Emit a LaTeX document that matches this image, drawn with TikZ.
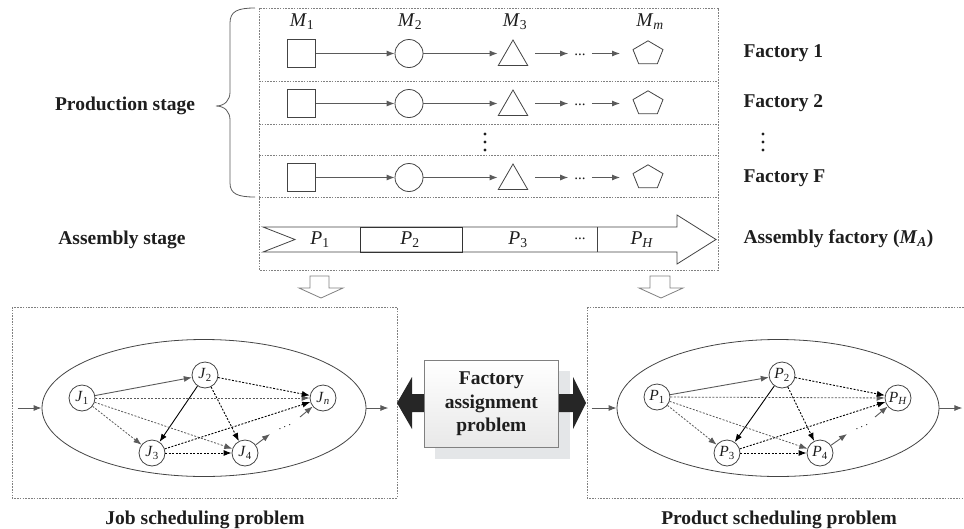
\documentclass[tikz,border=0pt]{standalone}
\usepackage{fontspec}
\setmainfont{Liberation Serif}
\usetikzlibrary{arrows.meta,shapes.geometric,calc}

\definecolor{ink}{HTML}{1E1E1E}
\definecolor{edge}{HTML}{444444}
\definecolor{flowgray}{HTML}{5A5A5A}
\definecolor{boxline}{HTML}{808080}
\definecolor{shadowgray}{HTML}{E4E6E8}

\newcommand{\msub}[2]{\textit{#1}\textsubscript{#2}}

\tikzset{
  dbox/.style={draw=boxline, line width=0.7pt, dash pattern=on 1.6pt off 1.2pt},
  shp/.style={draw=edge, line width=0.8pt, fill=white, inner sep=0pt},
  tip/.style={-{Latex[length=8pt,width=6pt]}},
  flow/.style={draw=flowgray, line width=0.9pt, tip},
  head/.style={font=\fontsize{19.5}{23}\selectfont\bfseries, text=ink},
  mlab/.style={font=\fontsize{19.5}{22}\selectfont, text=ink, inner sep=0pt},
  job/.style={circle, draw=edge, line width=0.8pt, fill=white, minimum size=26pt,
              inner sep=0pt, font=\fontsize{15.5}{17}\selectfont, text=ink},
  gsolid/.style={draw=flowgray, line width=0.9pt, tip},
  bsolid/.style={draw=black, line width=0.9pt, tip},
  gdash/.style={draw=flowgray, line width=0.8pt, dash pattern=on 2pt off 1.5pt, tip},
  bdash/.style={draw=black, line width=0.9pt, dash pattern=on 2pt off 1.5pt, tip},
  hollow/.style={draw=boxline, fill=white, line width=0.8pt},
  blackarrow/.style={fill=black!85, draw=none},
  dotsmark/.style={rotate=22, inner sep=0pt, font=\fontsize{12}{14}\selectfont, text=ink},
}

\begin{document}
\begin{tikzpicture}[x=1pt,y=-1pt]
\useasboundingbox (0,0) rectangle (964,528);

% ---------- upper block: production and assembly stages ----------
\draw[dbox] (259,8) rectangle (718,270);
\foreach \yy in {81,124,155,197} \draw[dbox] (259,\yy) -- (718,\yy);

% machine labels
\node[mlab] (m1) at (302,22) {\msub{M}{1}};
\node[mlab] (m2) at (410,22) {\msub{M}{2}};
\node[mlab] (m3) at (515,22) {\msub{M}{3}};
\node[mlab] (mm) at (650,22) {\msub{M}{\textit{m}}};

% factory rows
\foreach \r/\y in {1/53.5, 2/103.5, 3/177.5} {
  \node[shp, rectangle, minimum size=28pt] (sq\r) at (301.5,\y) {};
  \node[shp, circle, minimum size=28pt] (ci\r) at (409,\y) {};
  \node[shp, regular polygon, regular polygon sides=3, minimum size=34pt] (tr\r) at (513,\y+3.5) {};
  \node[mlab, font=\fontsize{15}{17}\selectfont] (dt\r) at (580,\y+1) {...};
  \coordinate (pe\r) at (648,\y);
  \draw[shp] (pe\r) ++(0,-12.7) -- ++(15,8.8) -- ++(-5.7,14.2) -- ++(-18.6,0) -- ++(-5.7,-14.2) -- cycle;
  \draw[flow] (sq\r) -- (ci\r);
  \draw[flow] (ci\r) -- (ci\r.east -| tr\r.corner 2);
  \draw[flow] ($(tr\r.corner 3 |- ci\r.east)+(7,0)$) -- ($(dt\r.west |- ci\r.east)+(-6,0)$);
  \draw[flow] ($(dt\r.east |- ci\r.east)+(6,0)$) -- ($(pe\r)+(-28,0)$);
}

% vertical ellipsis between factory 2 and factory F
\foreach \yy in {134,142,150} {
  \fill[ink] (485,\yy) circle (1.6);
  \fill[ink] (763,\yy) circle (1.6);
}

% factory names
\node[head, anchor=west] (f1) at (740,53) {Factory 1};
\node[head, anchor=west] (f2) at (740,103) {Factory 2};
\node[head, anchor=west] (fF) at (740,178) {Factory F};
\node[head, anchor=west] (fA) at (740,239) {Assembly factory (\textit{M}\textsubscript{\textit{A}})};

% stage names and brace
\node[head] (prod) at (125,106) {Production stage};
\node[head] (asmb) at (122,240) {Assembly stage};
\draw[draw=flowgray, line width=0.8pt]
  (255,8) .. controls (238,8) and (230,11) .. (230,23) -- (230,92)
  .. controls (230,100) and (225,106) .. (216,106)
  .. controls (225,106) and (230,112) .. (230,120) -- (230,183)
  .. controls (230,194) and (238,197) .. (255,197);

% assembly band as a notched block arrow
\draw[draw=edge, fill=white, line width=0.8pt]
  (263,227) -- (677,227) -- (677,215) -- (716,239.5) -- (677,264) -- (677,252)
  -- (263,252) -- (295,239.5) -- cycle;
\draw[draw=black!80, line width=1pt] (360,227) rectangle (462,252);
\draw[draw=edge, line width=0.8pt] (597,227) -- (597,252);
\node[mlab] (p1) at (320,240) {\msub{P}{1}};
\node[mlab] (p2) at (410,240) {\msub{P}{2}};
\node[mlab] (p3) at (518,240) {\msub{P}{3}};
\node[mlab, font=\fontsize{15}{17}\selectfont] (pd) at (580,239) {...};
\node[mlab] (ph) at (642,240) {\msub{P}{\textit{H}}};

% hollow arrows down to the sub-problems
\draw[hollow] (310,276) -- (329,276) -- (329,288) -- (343,288) -- (321,298) -- (299,288) -- (310,288) -- cycle;
\draw[hollow] (650,276) -- (670,276) -- (670,288) -- (683,288) -- (661,298) -- (639,288) -- (650,288) -- cycle;

% ---------- job scheduling problem ----------
\draw[dbox] (12,307) rectangle (397,498);
\node[ellipse, draw=edge, line width=0.8pt, minimum width=324pt, minimum height=137pt, inner sep=0pt] (jel) at (204,408) {};
\draw[flow] ($(jel.west)+(-24,0)$) -- (jel.west);
\draw[flow] (jel.east) -- ++(22,0);

\node[job] (J1) at (82,398) {\msub{J}{1}};
\node[job] (J2) at (205,375) {\msub{J}{2}};
\node[job] (Jn) at (323,398) {\msub{J}{\textit{n}}};
\node[job] (J3) at (152,453) {\msub{J}{3}};
\node[job] (J4) at (245,453) {\msub{J}{4}};

\draw[gsolid] (J1) -- (J2);
\draw[bsolid] (J2) -- (J3);
\draw[gdash] (J1) -- (Jn);
\draw[gdash] (J1) -- (J3);
\draw[gdash] (J1) -- (J4);
\draw[bdash] (J2) -- (Jn);
\draw[bdash] (J2) -- (J4);
\draw[bdash] (J3) -- (J4);
\draw[bdash] (J3) -- (Jn);
\coordinate (j4out) at ($(J4)+(25,-19)$);
\coordinate (jnin) at ($(Jn)+(-23,19)$);
\draw[gsolid] (J4) -- (j4out);
\node[dotsmark] (jdots) at (285,427) {$\cdots$};
\draw[gsolid] (jnin) -- (Jn);
\node[head] (jlab) at (205,520) {Job scheduling problem};

% ---------- product scheduling problem ----------
\draw[dbox] (587,307) rectangle (968,498);
\node[ellipse, draw=edge, line width=0.8pt, minimum width=322pt, minimum height=137pt, inner sep=0pt] (pel) at (778,408) {};
\draw[flow] ($(pel.west)+(-25,0)$) -- (pel.west);
\draw[flow] (pel.east) -- ++(23,0);

\node[job] (P1) at (657,397) {\msub{P}{1}};
\node[job] (P2) at (782,375) {\msub{P}{2}};
\node[job] (PH) at (898,398) {\msub{P}{\textit{H}}};
\node[job] (P3) at (727,453) {\msub{P}{3}};
\node[job] (P4) at (820,453) {\msub{P}{4}};

\draw[gsolid] (P1) -- (P2);
\draw[bsolid] (P2) -- (P3);
\draw[gdash] (P1) -- (PH);
\draw[gdash] (P1) -- (P3);
\draw[gdash] (P1) -- (P4);
\draw[bdash] (P2) -- (PH);
\draw[bdash] (P2) -- (P4);
\draw[bdash] (P3) -- (P4);
\draw[bdash] (P3) -- (PH);
\coordinate (p4out) at ($(P4)+(27,-19)$);
\coordinate (phin) at ($(PH)+(-23,19)$);
\draw[gsolid] (P4) -- (p4out);
\node[dotsmark] (pdots) at (862,427) {$\cdots$};
\draw[gsolid] (phin) -- (PH);
\node[head] (plab) at (779,520) {Product scheduling problem};

% ---------- factory assignment problem ----------
\fill[shadowgray] (435,371) rectangle (570,459);
\fill[blackarrow] (424,394) -- (412,394) -- (412,377) -- (397,403) -- (412,429) -- (412,412) -- (424,412) -- cycle;
\fill[blackarrow] (558,394) -- (573,394) -- (573,377) -- (586,403) -- (573,429) -- (573,412) -- (558,412) -- cycle;
\node[draw=boxline, line width=0.8pt, top color=white, bottom color=black!9,
      minimum width=134pt, minimum height=87pt, inner sep=0pt, anchor=north west,
      align=center, font=\fontsize{19.5}{23.5}\selectfont\bfseries, text=ink] (fap) at (424,360)
  {Factory\\assignment\\problem};
\end{tikzpicture}
\end{document}
